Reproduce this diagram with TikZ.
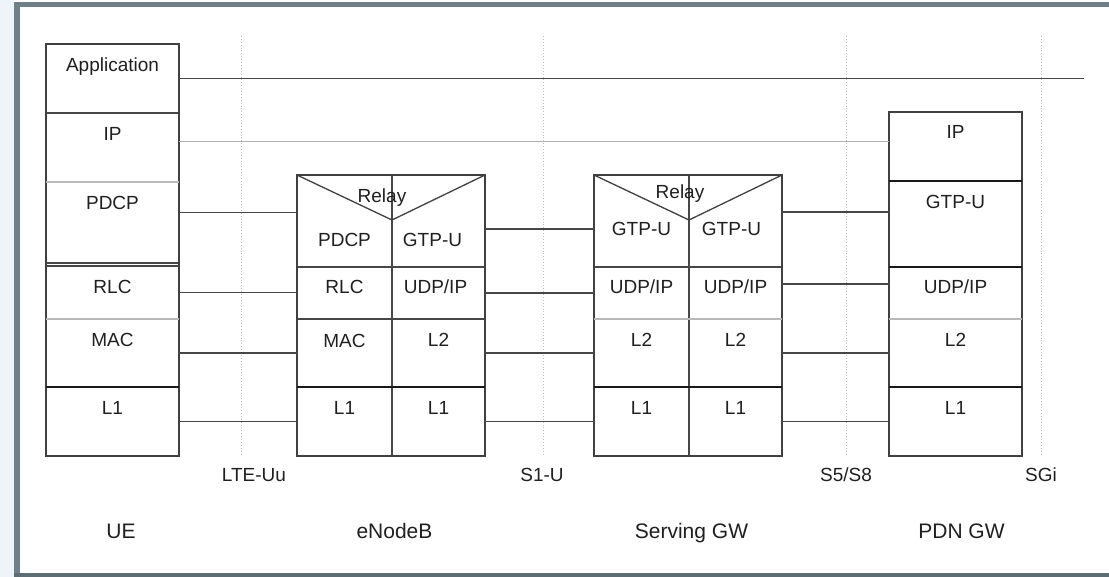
\documentclass[tikz,border=0pt]{standalone}
\usepackage{fontspec}
\setmainfont{Liberation Sans}
\usetikzlibrary{positioning, calc}
\definecolor{framegray}{HTML}{6F8088}
\definecolor{edgetint}{HTML}{EEF4F8}

\begin{document}
\begin{tikzpicture}[
            x=1pt, y=-1pt,
            node distance=0pt,
            cell/.style={rectangle, draw=black!72, line width=1.4pt, inner sep=0pt, outer sep=0pt, minimum height=#1},
            stack/.style={cell=#1, minimum width=133pt},
            lefthalf/.style={cell=#1, minimum width=95pt},
            righthalf/.style={cell=#1, minimum width=93pt},
            lbl/.style={anchor=base, yshift=#1, font=\fontsize{19}{21}\selectfont, text=black!88},
            lbl/.default=-27.5pt,
            frame/.style={draw=black!75, line width=1.6pt},
            thicksep/.style={black!90, line width=2.3pt},
            thinsep/.style={gray!55, line width=1.5pt},
            relay/.style={black!75, line width=1.3pt},
            link/.style={black!72, line width=1.7pt},
            iplink/.style={gray!60, line width=1.8pt},
            iface/.style={gray!50, dotted, line width=0.9pt},
            ifname/.style={anchor=base, font=\fontsize{19}{21}\selectfont, text=black!88},
            entity/.style={anchor=base, font=\fontsize{21}{23}\selectfont, text=black!88}
        ]
            % --- Page and frame ---
            \useasboundingbox (0,0) rectangle (1109,577);
            \fill[edgetint] (0,0) rectangle (14,577);
            \fill[framegray] (14,2) rectangle (1109,7);
            \fill[framegray] (14,2) rectangle (20,577);
            \fill[framegray!85!black] (14,573) rectangle (1109,577);

            % --- UE stack ---
            \node[stack=69pt, anchor=north west, label={[lbl]north:Application}] (ueapp) at (46,44) {};
            \node[stack=69pt, below=of ueapp, label={[lbl]north:IP}] (ueip) {};
            \node[stack=81pt, below=of ueip, label={[lbl]north:PDCP}] (uepdcp) {};
            \node[stack=53pt, below=3pt of uepdcp, label={[lbl]north:RLC}] (uerlc) {};
            \node[stack=68pt, below=of uerlc, label={[lbl]north:MAC}] (uemac) {};
            \node[stack=69pt, below=of uemac, label={[lbl]north:L1}] (uel1) {};
            \draw[frame] (ueapp.north west) rectangle (uel1.south east);

            % --- eNodeB stack ---
            \node[lefthalf=92pt, anchor=north west, label={[lbl=-71.5pt]north:PDCP}] (enbpdcp) at (297,175) {};
            \node[righthalf=92pt, right=of enbpdcp, label={[lbl=-72pt, xshift=-6pt]north:GTP-U}] (enbgtp) {};
            \node[lefthalf=52pt, below=of enbpdcp, label={[lbl=-26.5pt]north:RLC}] (enbrlc) {};
            \node[righthalf=52pt, below=of enbgtp, label={[lbl=-26.5pt, xshift=-3pt]north:UDP/IP}] (enbudp) {};
            \node[lefthalf=68pt, below=of enbrlc, label={[lbl=-29pt]north:MAC}] (enbmac) {};
            \node[righthalf=68pt, below=of enbudp, label={[lbl]north:L2}] (enbl2) {};
            \node[lefthalf=69pt, below=of enbmac, label={[lbl]north:L1}] (enbl1a) {};
            \node[righthalf=69pt, below=of enbl2, label={[lbl]north:L1}] (enbl1b) {};
            \coordinate (enbapex) at ([yshift=-45pt]enbpdcp.north east);
            \draw[relay] (enbpdcp.north west) -- (enbapex) -- (enbgtp.north east);
            \node[lbl=0pt] (enbrelay) at ([xshift=-10pt, yshift=17pt]enbapex) {Relay};
            \draw[frame] (enbpdcp.north west) rectangle (enbl1b.south east);

            % --- Serving GW stack ---
            \node[lefthalf=92pt, anchor=north west, label={[lbl=-61pt]north:GTP-U}] (sgwgtpa) at (594,175) {};
            \node[righthalf=92pt, right=of sgwgtpa, label={[lbl=-61pt, xshift=-4pt]north:GTP-U}] (sgwgtpb) {};
            \node[lefthalf=52pt, below=of sgwgtpa, label={[lbl=-26.5pt]north:UDP/IP}] (sgwudpa) {};
            \node[righthalf=52pt, below=of sgwgtpb, label={[lbl=-26.5pt]north:UDP/IP}] (sgwudpb) {};
            \node[lefthalf=68pt, below=of sgwudpa, label={[lbl]north:L2}] (sgwl2a) {};
            \node[righthalf=68pt, below=of sgwudpb, label={[lbl]north:L2}] (sgwl2b) {};
            \node[lefthalf=69pt, below=of sgwl2a, label={[lbl]north:L1}] (sgwl1a) {};
            \node[righthalf=69pt, below=of sgwl2b, label={[lbl]north:L1}] (sgwl1b) {};
            \coordinate (sgwapex) at ([yshift=-45pt]sgwgtpa.north east);
            \draw[relay] (sgwgtpa.north west) -- (sgwapex) -- (sgwgtpb.north east);
            \node[lbl=0pt] (sgwrelay) at ([xshift=-9pt, yshift=21pt]sgwapex) {Relay};
            \draw[frame] (sgwgtpa.north west) rectangle (sgwl1b.south east);

            % --- PDN GW stack ---
            \node[stack=69pt, anchor=north west, label={[lbl=-27pt]north:IP}] (pdnip) at (889,112) {};
            \node[stack=86pt, below=of pdnip, label={[lbl]north:GTP-U}] (pdngtp) {};
            \node[stack=52pt, below=of pdngtp, label={[lbl=-26.5pt]north:UDP/IP}] (pdnudp) {};
            \node[stack=68pt, below=of pdnudp, label={[lbl]north:L2}] (pdnl2) {};
            \node[stack=69pt, below=of pdnl2, label={[lbl]north:L1}] (pdnl1) {};
            \draw[frame] (pdnip.north west) rectangle (pdnl1.south east);

            % --- Layer separators ---
            \draw[thinsep] (ueip.south west) -- (ueip.south east);
            \draw[thinsep] (uerlc.south west) -- (uerlc.south east);
            \draw[thinsep] (sgwudpa.south west) -- (sgwudpb.south east);
            \draw[thinsep] (pdnudp.south west) -- (pdnudp.south east);
            \draw[thicksep] (uemac.south west) -- (uemac.south east);
            \draw[thicksep] (enbmac.south west) -- (enbl2.south east);
            \draw[thicksep] (sgwl2a.south west) -- (sgwl2b.south east);
            \draw[thicksep] (pdnip.south west) -- (pdnip.south east);
            \draw[thicksep] (pdngtp.south west) -- (pdngtp.south east);
            \draw[thicksep] (pdnl2.south west) -- (pdnl2.south east);

            % --- Interfaces ---
            \node[ifname] (uu) at (254,481) {LTE-Uu};
            \node[ifname] (sone) at (542,481) {S1-U};
            \node[ifname] (sfive) at (846,481) {S5/S8};
            \node[ifname] (sgi) at (1041,481) {SGi};
            \coordinate (uutop) at (241,36);
            \coordinate (sonetop) at (543,36);
            \coordinate (sfivetop) at (846.5,36);
            \coordinate (sgitop) at (1041,36);
            \draw[iface] (uutop) -- (uutop |- uel1.south);
            \draw[iface] (sonetop) -- (sonetop |- uel1.south);
            \draw[iface] (sfivetop) -- (sfivetop |- uel1.south);
            \draw[iface] (sgitop) -- (sgitop |- uel1.south);

            % --- Peer links ---
            \coordinate (append) at (1084,80);
            \draw[link] (ueapp.east) -- (ueapp.east -| append);
            \draw[iplink] ([yshift=6pt]ueip.east) -- ([yshift=6pt]ueip.east -| pdnip.west);
            \draw[link] ([yshift=10pt]uepdcp.east) -- ([yshift=10pt]uepdcp.east -| enbpdcp.west);
            \draw[link] ([yshift=-8pt]enbgtp.east) -- ([yshift=-8pt]sgwgtpa.west);
            \draw[link] ([yshift=9pt]sgwgtpb.east) -- ([yshift=9pt]sgwgtpb.east -| pdngtp.west);
            \draw[link] (uerlc.east) -- (uerlc.east -| enbrlc.west);
            \draw[link] (enbudp.east) -- (sgwudpa.west);
            \draw[link] ([yshift=9pt]sgwudpb.east) -- ([yshift=9pt]sgwudpb.east -| pdnudp.west);
            \draw[link] (uemac.east) -- (enbmac.west);
            \draw[link] (enbl2.east) -- (sgwl2a.west);
            \draw[link] (sgwl2b.east) -- (pdnl2.west);
            \draw[link] (uel1.east) -- (enbl1a.west);
            \draw[link] (enbl1b.east) -- (sgwl1a.west);
            \draw[link] (sgwl1b.east) -- (pdnl1.west);

            % --- Network elements ---
            \node[entity] (ue) at (121,538) {UE};
            \node[entity] (enb) at (394.5,538) {eNodeB};
            \node[entity] (sgw) at (691.5,538) {Serving GW};
            \node[entity] (pgw) at (961.5,538) {PDN GW};
        \end{tikzpicture}
\end{document}
